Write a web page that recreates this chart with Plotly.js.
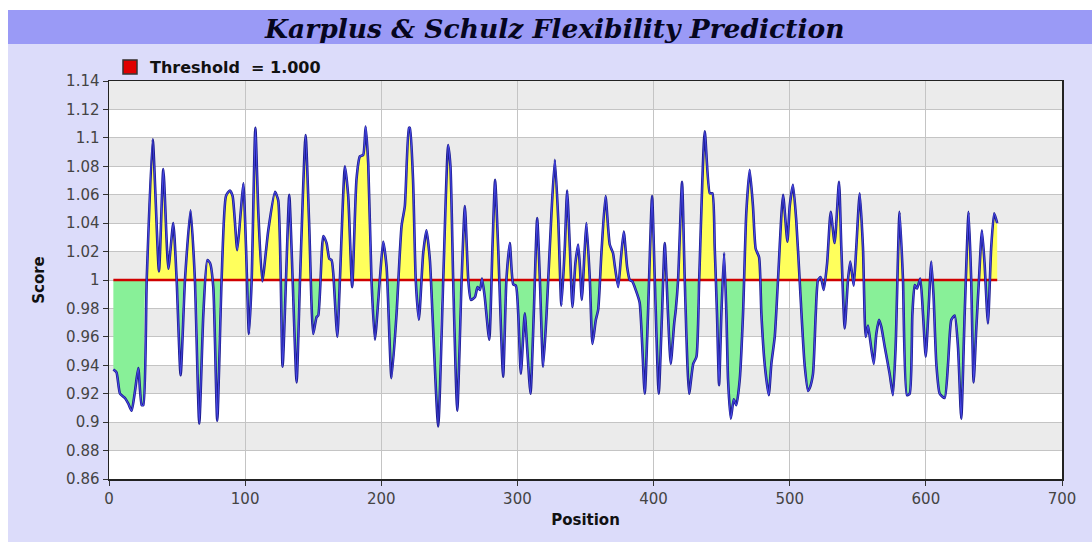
<!DOCTYPE html>
<html><head><meta charset="utf-8">
<script src="https://cdn.plot.ly/plotly-3.0.1.min.js"></script>
<style>html,body{margin:0;padding:0;background:#fff}#chart{width:1092px;height:542px}</style>
</head><body><div id="chart"></div>
<script>
// Data
const positions = [3.2,5.5,8.1,11.7,14.2,16.6,19.1,21.5,24,25.2,27.7,32.1,36.7,39.9,43.6,47.2,49.7,52.6,55.8,59.9,63.1,66.3,69.3,72.2,74.2,
76.6,79.5,82.7,85.9,88.8,90.8,94.2,96.7,98.7,100.6,102.8,104.8,107.5,109.7,112.6,117,121.9,124.3,127.5,130,132.4,134.9,137.8,140.3,144.4,147,
150,152.5,153.7,157.4,159.8,161.8,163.5,164.7,167.7,169.6,173.3,175.7,178.6,181.8,184.3,186.7,188.5,190.4,192.8,195.3,198.9,201.4,203.9,207.5,211.2,214.9,217.3,220.3,
221,223.3,225.3,227.6,230.8,233.2,235.7,237.6,241.8,245.5,249.1,250.8,252.8,255.8,259,261.4,263.9,265.8,268.8,270.7,272.5,274,276,279.3,281.7,283.6,285.8,289.5,291.9,294.4,
296.9,298.9,300.6,302.5,305.4,307.1,309.6,312,314.5,316.5,318.9,321.4,325,327.5,330,332.3,334.8,336.5,338.5,340.4,342.6,344.6,345.9,347.3,349.5,350.7,353.2,355.1,357.6,359.3,361.7,364.7,367.8,
370.2,371.5,374,375.9,378.1,380.6,382.5,384.4,386.9,389.8,393.5,395.9,398.9,400.9,403.8,406.2,408.2,410.6,412.6,415.1,416.3,418,420.9,422.9,426.1,429.1,431.5,433.5,437.6,441.3,
443.2,444.9,446.6,448.1,449.8,451.8,453.5,454.7,456.7,458.9,460.8,463.3,465.7,468.1,470.6,473,475,477.5,479.2,481.6,484.6,486.5,489,491.4,495.1,498.3,500,502.4,504.8,507.3,510.9,513.5,
514.7,517.1,519.1,520.8,522.8,525,527.5,530.1,533,536.2,537.9,540.4,542.8,544.5,547,548.9,551.4,553.8,555.8,557.5,559.2,561.7,563.6,565.6,567.3,569.8,573.4,575.8,577.8,580.7,583.2,586.1,
588.1,590.1,591.8,593.5,595.9,597.9,599.9,601.8,604,605.7,607.7,610.2,613.8,616.3,618.7,621.2,623.6,626,628.5,631.4,633.3,635.1,637,639,641.2,643.1,645.6,648,650.2,652.4];
const scores = [0.937,0.935,0.920,0.917,0.913,0.908,0.922,0.938,0.912,0.912,1.0,1.099,1.006,1.078,1.008,1.040,1.0,0.933,1.0,1.049,1.0,0.899,0.976,1.014,1.012,
0.995,0.901,1.0,1.059,1.063,1.059,1.021,1.047,1.068,1.024,0.962,1.0,1.107,1.047,0.999,1.035,1.062,1.056,0.939,1.0,1.060,1.0,0.928,1.0,1.102,1.04,
0.962,0.974,0.975,1.031,1.026,1.015,1.014,1.005,0.960,1.0,1.080,1.059,0.995,1.071,1.087,1.088,1.108,1.082,1.0,0.958,1.0,1.027,1.009,0.931,0.976,1.038,1.052,1.107,
1.107,1.071,1.0,0.972,1.019,1.035,1.014,0.976,0.897,1.0,1.095,1.080,1.0,0.908,1.0,1.052,1.0,0.986,0.988,0.995,0.993,1.001,0.988,0.958,1.024,1.0705,1.024,0.932,1.0,1.026,
0.997,0.996,0.976,0.934,0.9765,0.953,0.92,0.976,1.0435,1.0,0.939,0.976,1.047,1.0846,1.042,0.982,1.023,1.063,1.023,0.981,1.012,1.025,1.009,0.986,1.023,1.04,1.0,0.955,0.972,0.979,1.019,1.059,1.025,
1.019,1.01,0.995,1.014,1.034,1.009,1.0,0.999,0.993,0.984,0.92,0.976,1.059,1.0,0.92,0.976,1.026,0.976,0.941,0.969,0.979,1.0,1.069,1.0,0.92,0.941,0.946,1.0,1.1046,1.061,
1.061,1.023,0.976,0.926,0.976,1.019,0.976,0.93,0.9025,0.916,0.912,0.93,0.976,1.047,1.0776,1.052,1.022,1.016,0.976,0.941,0.919,0.941,0.96,1.0,1.06,1.027,1.052,1.067,1.042,1.0,0.941,0.922,
0.924,0.934,0.976,1.0,1.002,0.993,1.012,1.048,1.026,1.069,1.023,0.966,1.0,1.013,0.996,1.023,1.061,1.023,0.96,0.968,0.957,0.941,0.962,0.972,0.967,0.953,0.934,0.919,0.953,1.048,1.0,0.919,
0.92,0.976,0.9965,0.994,1.001,0.976,0.946,0.976,1.013,0.988,0.941,0.92,0.917,0.941,0.972,0.975,0.953,0.9025,0.976,1.048,1.0,0.928,0.965,1.0,1.035,1.012,0.9695,1.023,1.047,1.04];
const threshold = 1.0;
const thresholdLabel = 'Threshold\u00a0 = 1.000';
const chartTitle = 'Karplus & Schulz Flexibility Prediction';
const xTitle = 'Position';
const yTitle = 'Score';

function clipSeries(xs, ys, t, above) {
  const px = [], py = [];
  for (let i = 0; i < xs.length; i++) {
    if (i > 0) {
      const y0 = ys[i-1], y1 = ys[i];
      if ((y0 - t) * (y1 - t) < 0) {
        const f = (t - y0) / (y1 - y0);
        px.push(xs[i-1] + f * (xs[i] - xs[i-1])); py.push(t);
      }
    }
    px.push(xs[i]); py.push(above ? Math.max(ys[i], t) : Math.min(ys[i], t));
  }
  return {px, py};
}
const up = clipSeries(positions, scores, threshold, true);
const lo = clipSeries(positions, scores, threshold, false);
const xFirst = positions[0], xLast = positions[positions.length-1];
const SM = 0.55;

const base = {x: [xFirst, xLast], y: [threshold, threshold], type: 'scatter', mode: 'lines', line: {width: 0}, hoverinfo: 'skip', showlegend: false};
const traces = [
  Object.assign({}, base),
  {x: up.px, y: up.py, type: 'scatter', mode: 'lines', fill: 'tonexty', fillcolor: '#ffff5c', line: {width: 0, shape: 'spline', smoothing: SM}, hoverinfo: 'skip', showlegend: false},
  Object.assign({}, base),
  {x: lo.px, y: lo.py, type: 'scatter', mode: 'lines', fill: 'tonexty', fillcolor: '#88f098', line: {width: 0, shape: 'spline', smoothing: SM}, hoverinfo: 'skip', showlegend: false},
  {x: [xFirst, xLast], y: [threshold, threshold], type: 'scatter', mode: 'lines', line: {color: '#d00000', width: 2.5}, showlegend: false},
  {x: positions, y: scores, type: 'scatter', mode: 'lines', line: {color: '#1c1c8c', width: 2.6, shape: 'spline', smoothing: SM}, showlegend: false},
  {x: positions, y: scores, type: 'scatter', mode: 'lines', line: {color: '#4848e8', width: 1.1, shape: 'spline', smoothing: SM}, showlegend: false},
  {x: [null], y: [null], type: 'scatter', mode: 'markers', name: thresholdLabel,
   marker: {symbol: 'square', size: 14, color: '#e00000', line: {color: '#333', width: 1.5}}, showlegend: true}
];

const W = 1092, H = 542, ml = 109, mr = 30, mt = 81, mb = 63;
const pw = W - ml - mr, ph = H - mt - mb;
const pxX = p => (p - ml) / pw;
const pxY = p => (H - mb - p) / ph;

const shapes = [];
shapes.push({type: 'rect', xref: 'paper', yref: 'paper', x0: pxX(-5), x1: pxX(8), y0: pxY(H+5), y1: pxY(-5), fillcolor: '#ffffff', line: {width: 0}, layer: 'below'});
shapes.push({type: 'rect', xref: 'paper', yref: 'paper', x0: pxX(-5), x1: pxX(W+5), y0: pxY(10), y1: pxY(-5), fillcolor: '#ffffff', line: {width: 0}, layer: 'below'});
shapes.push({type: 'rect', xref: 'paper', yref: 'paper', x0: pxX(8), x1: pxX(W+5), y0: pxY(44), y1: pxY(10), fillcolor: '#9a9af6', line: {width: 0}, layer: 'below'});
for (let k = 0; k < 14; k++) {
  if (k % 2 === 1) {
    shapes.push({type: 'rect', xref: 'paper', yref: 'y', x0: 0, x1: 1, y0: 0.86 + 0.02*k, y1: 0.86 + 0.02*(k+1), fillcolor: '#ebebeb', line: {width: 0}, layer: 'below'});
  }
}

const tickFont = {family: 'DejaVu Sans, sans-serif', size: 15, color: '#444'};
const layout = {
  width: W, height: H,
  margin: {l: ml, r: mr, t: mt, b: mb, pad: 0},
  paper_bgcolor: '#dcdcfa', plot_bgcolor: '#ffffff',
  title: {text: chartTitle, x: 0.508, xanchor: 'center', y: 1 - 29/H, yanchor: 'middle',
    font: {family: 'DejaVu Serif, serif', size: 26.5, color: '#06061e', weight: 'bold', style: 'italic'}},
  xaxis: {range: [0, 700], dtick: 100, tick0: 0, showgrid: true, gridcolor: '#c4c4c4', gridwidth: 1,
    showline: true, linecolor: '#222', linewidth: 1.5, mirror: true, zeroline: false,
    ticks: 'outside', ticklen: 5, tickcolor: '#333', tickfont: tickFont,
    title: {text: xTitle, font: {family: 'DejaVu Sans, sans-serif', size: 15, color: '#111', weight: 'bold'}, standoff: 8}},
  yaxis: {range: [0.86, 1.14], dtick: 0.02, tick0: 0.86, showgrid: true, gridcolor: '#c4c4c4', gridwidth: 1,
    showline: true, linecolor: '#222', linewidth: 1.5, mirror: true, zeroline: false,
    ticks: 'outside', ticklen: 5, tickcolor: '#333', tickfont: tickFont,
    title: {text: yTitle, font: {family: 'DejaVu Sans, sans-serif', size: 15, color: '#111', weight: 'bold'}, standoff: 18}},
  showlegend: true,
  legend: {x: pxX(110), xanchor: 'left', y: pxY(50), yanchor: 'top', orientation: 'h', bgcolor: 'rgba(0,0,0,0)',
    font: {family: 'DejaVu Sans, sans-serif', size: 16, color: '#111', weight: 'bold'}},
  shapes: shapes
};

Plotly.newPlot('chart', traces, layout, {staticPlot: true, displayModeBar: false});
</script>
</body></html>
